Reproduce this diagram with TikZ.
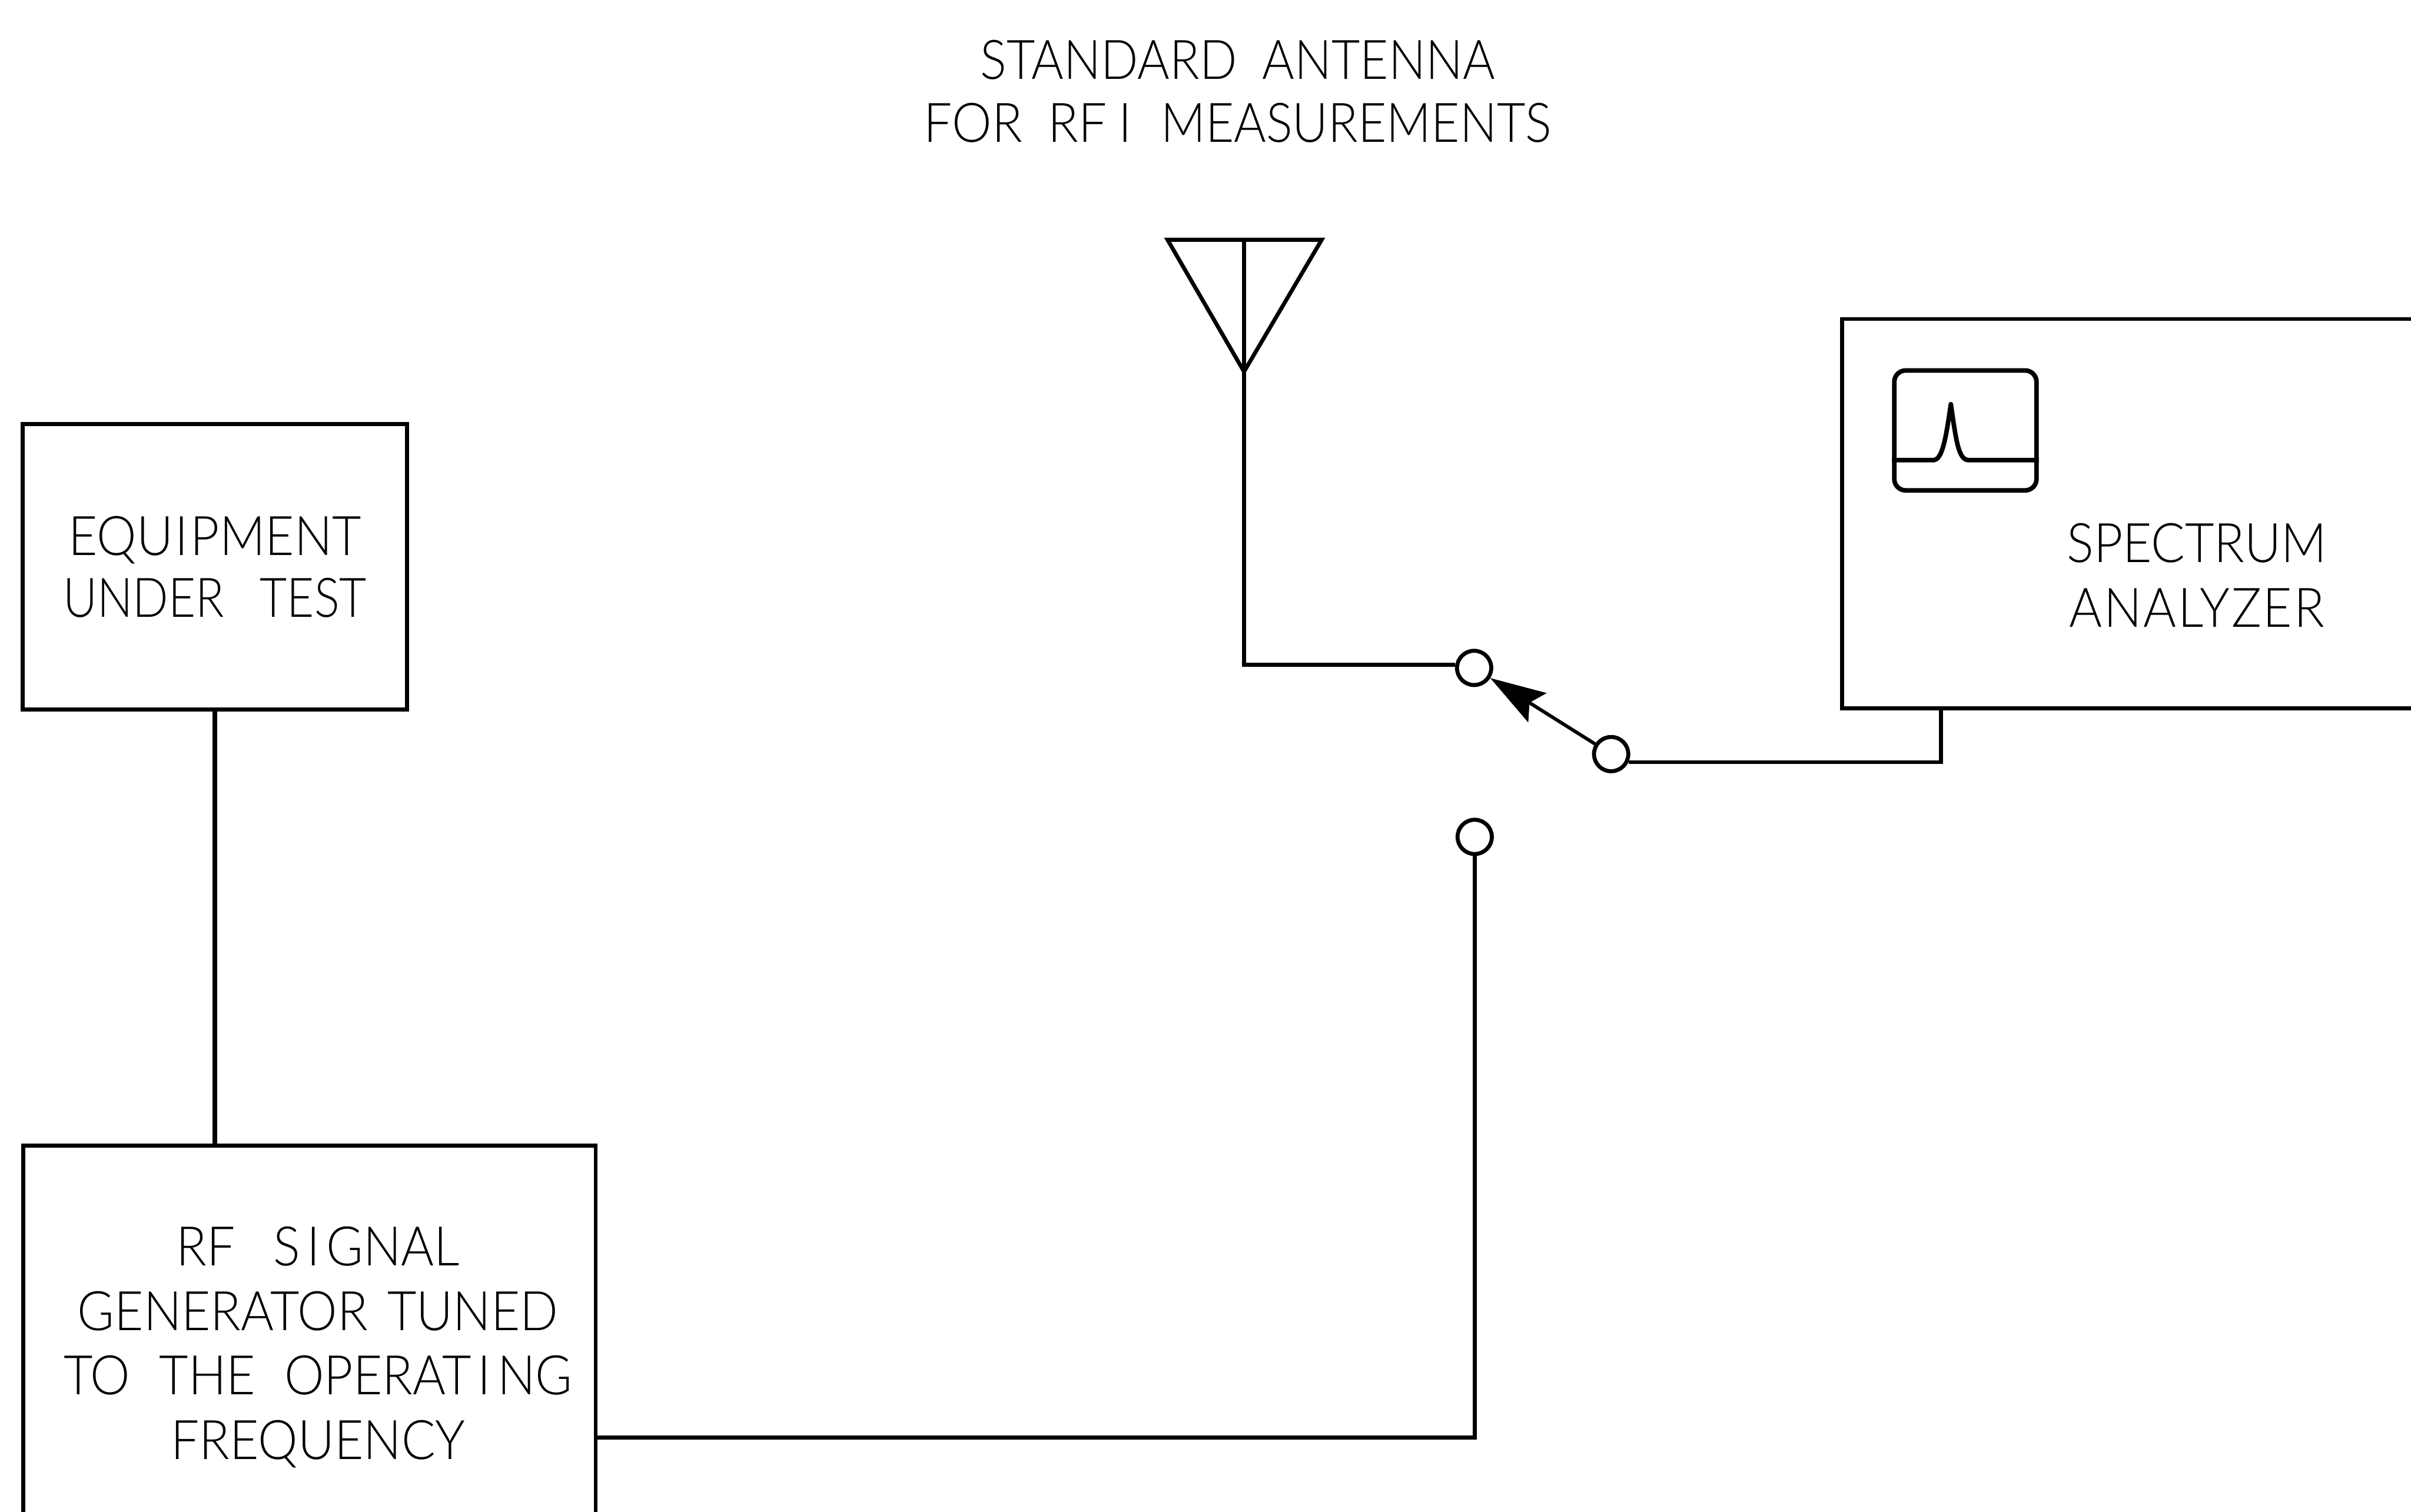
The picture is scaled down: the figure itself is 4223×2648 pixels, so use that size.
\documentclass[tikz,border=0pt]{standalone}
\usepackage{fontspec}
\usetikzlibrary{arrows.meta}
\setmainfont{Lato}[UprightFont=* Light,FakeStretch=0.92]
\newcommand{\spI}[1]{\kern#1em I\kern#1em }
\newcommand{\wsp}[1]{\ \kern#1em\relax}
\tikzset{
  x=0.01cm,y=-0.01cm,
  wire/.style={line width=0.07cm,line cap=butt,line join=miter},
  boxnode/.style={draw,line width=0.07cm,inner sep=0pt,outer sep=0pt},
  terminal/.style={draw,circle,line width=0.07cm,minimum size=0.6cm,inner sep=0pt},
  lab/.style={align=center,inner sep=0pt,font=\fontsize{27.2}{32.2}\selectfont}
}
\begin{document}
\begin{tikzpicture}
\path[use as bounding box,clip] (0,0) rectangle (4223,2648);
\fill[white] (0,0) rectangle (4223,2648);
\node[lab,font=\fontsize{27.2}{31.3}\selectfont] (title) at (2168,160) {{\addfontfeature{FakeStretch=0.90}STANDARD\wsp{.22}ANTENNA}\\FOR\wsp{.22}RF\kern.22em I\wsp{.28}{\addfontfeature{FakeStretch=0.90}MEASUREMENTS}};
\node[boxnode,lab,font=\fontsize{27.2}{30.7}\selectfont,minimum width=6.73cm,minimum height=5cm] (eut) at (376.5,993) {EQU\spI{.04}PMENT\\{\addfontfeature{FakeStretch=0.86}UNDER\wsp{.42}TEST}};
\node[boxnode,minimum width=10.02cm,minimum height=6.98cm] (rf) at (542,2356) {};
\node[lab] (rflabel) at (557,2360) {RF\wsp{.45}S\spI{.12}GNAL\\GENERATOR\wsp{.11}TUNED\\TO\wsp{.28}THE\wsp{.28}OPERAT\spI{.12}NG\\FREQUENCY};
\node[boxnode,minimum width=12cm,minimum height=6.82cm] (sa) at (3827,900) {};
\node[lab] (salabel) at (3848,1008) {SPECTRUM\\{\addfontfeature{LetterSpace=2.8}ANALYZER}};
\node[terminal] (c1) at (2582,1170) {};
\node[terminal] (c2) at (2822,1321) {};
\node[terminal] (c3) at (2583,1466) {};
% antenna
\coordinate (anttip) at (2179,651);
\coordinate (antl) at (2045,420);
\coordinate (antr) at (2315,420);
\coordinate (anttop) at (2179,420);
\draw[wire] (antl) -- (antr) -- (anttip) -- cycle;
\draw[wire] (anttop) -- (anttip);
% screen icon
\node[draw,line width=0.08cm,rounded corners=0.2cm,minimum width=2.49cm,minimum height=2.1cm,inner sep=0pt] (screen) at (3442.5,754) {};
\draw[line width=0.08cm,line join=round] (screen.west |- 0,806) -- (3386,806) .. controls (3402,806) and (3408,770) .. (3417,708) .. controls (3426,770) and (3430,806) .. (3448,806) -- (screen.east |- 0,806);
% connectors
\coordinate (sastub) at (3400,1241);
\coordinate (rfport) at (1043,2518);
\draw[wire,line width=0.08cm] (eut.south) -- (eut.south |- rf.north);
\draw[wire] (anttip) |- (c1.170);
\draw[wire] (c2.-25) -| (sastub);
\draw[wire] (rfport) -| (c3.south);
\draw[line width=0.06cm,-{Stealth[length=0.97cm,width=0.6cm,inset=0.16cm]}] (c2) -- (c1);
\end{tikzpicture}
\end{document}
